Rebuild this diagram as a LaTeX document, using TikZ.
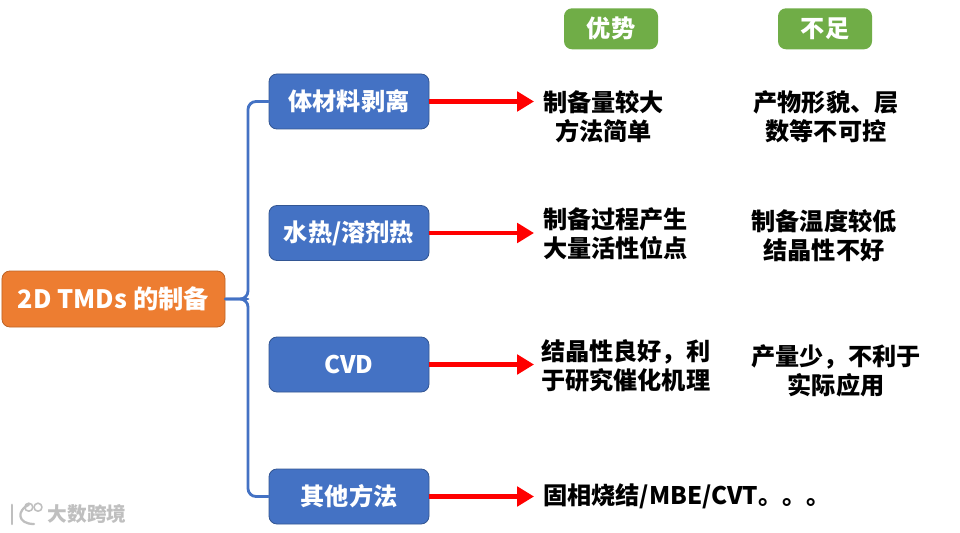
\documentclass[tikz,border=0pt]{standalone}
\usepackage{fontspec}
\setmainfont{Noto Sans CJK SC}
\usetikzlibrary{arrows.meta}
\definecolor{boxblue}{RGB}{68,114,196}
\definecolor{boxorange}{RGB}{237,125,49}
\definecolor{boxgreen}{RGB}{112,173,71}
\tikzset{
    basebox/.style={rounded corners=0.2cm,text=white,font=\fontsize{17.2}{20.5}\selectfont\bfseries,inner sep=0pt},
    methodbox/.style={basebox,fill=boxblue,draw=boxblue!75!black,line width=0.6pt,minimum width=4cm,minimum height=1.375cm},
    rootbox/.style={basebox,font=\fontsize{18}{20.5}\selectfont\bfseries,fill=boxorange,draw=boxorange!80!black,line width=0.6pt,minimum width=5.575cm,minimum height=1.4cm},
    headbox/.style={basebox,fill=boxgreen,minimum width=2.35cm,minimum height=1.025cm},
    note/.style={align=center,font=\fontsize{17.2}{20.5}\selectfont\bfseries,inner xsep=0.22cm,inner ysep=0pt},
    branch/.style={draw=boxblue,line width=2pt,rounded corners=0.2cm},
    gain/.style={draw=red,line width=3.2pt,line cap=butt,-{Triangle[length=0.42cm,width=0.48cm]}}
}
\begin{document}
\begin{tikzpicture}[x=1cm,y=1cm,line cap=round,line join=round]
        \useasboundingbox (0,0) rectangle (24,13.3);
        \fill[white] (0,0) rectangle (24,13.3);

        % Cabeceras
        \node[headbox] (headpro) at (15.275,12.58) {优势};
        \node[headbox] (headcon) at (20.625,12.58) {不足};

        % Tronco y metodos
        \node[rootbox] (root) at (2.8375,5.825) {2D TMDs 的制备};
        \node[methodbox] (bulk) at (8.725,10.7625) {体材料剥离};
        \node[methodbox] (hydro) at (8.725,7.475) {水热/溶剂热};
        \node[methodbox] (cvd) at (8.725,4.1875) {CVD};
        \node[methodbox] (other) at (8.725,0.8875) {其他方法};

        \coordinate (trunk) at (6.2,5.825);
        \draw[branch] (root.east) -- (trunk) |- (bulk.west);
        \draw[branch] (root.east) -- (trunk) |- (other.west);
        \draw[branch,rounded corners=0pt] (root.east) -- (trunk);

        % Ventajas
        \node[note,anchor=west] (probulk) at (13.35,10.3875) {制备量较大\\方法简单};
        \node[note,anchor=west] (prohydro) at (13.35,7.4625) {制备过程产生\\大量活性位点};
        \node[note,anchor=west] (procvd) at (13.3,4.1625) {结晶性良好，利\\于研究催化机理};
        \node[note,anchor=west] (proother) at (13.35,0.9) {固相烧结/MBE/CVT。。。};

        % Flechas
        \draw[gain] (bulk.east) -- (bulk.east -| probulk.west);
        \draw[gain] (hydro.east) -- (hydro.east -| prohydro.west);
        \draw[gain] (cvd.east) -- (cvd.east -| prohydro.west);
        \draw[gain] (other.east) -- (other.east -| prohydro.west);

        % Desventajas
        \node[note] (conbulk) at (20.65,10.3875) {产物形貌、层\\数等不可控};
        \node[note] (conhydro) at (20.6,7.4125) {制备温度较低\\结晶性不好};
        \node[note] (concvd) at (20.9,4.025) {产量少，不利于\\实际应用};

        % Marca de agua
        \node[text=black!25,font=\fontsize{14}{14}\selectfont\bfseries] (mark) at (2.18,0.45) {大数跨境};
        \draw[black!25,line width=1.6pt] (0.3,0.68) -- (0.3,0.2);
        \draw[black!25,line width=1.6pt] (0.72,0.68) .. controls (0.42,0.55) and (0.42,0.2) .. (0.85,0.2);
        \draw[black!25,line width=1.1pt] (0.72,0.62) circle (0.1);
        \draw[black!25,line width=1.1pt] (0.95,0.62) circle (0.1);
    \end{tikzpicture}
\end{document}
